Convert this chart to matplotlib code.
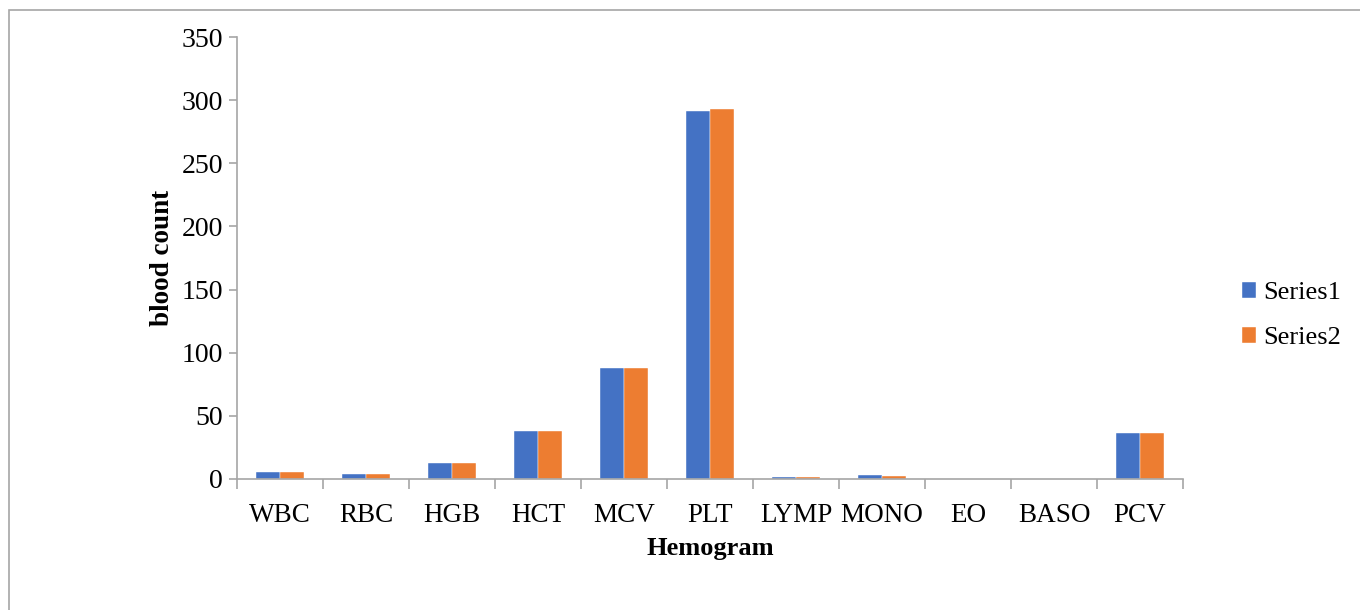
import matplotlib.pyplot as plt
import numpy as np
from matplotlib.patches import Rectangle

plt.rcParams['font.family'] = ['Liberation Serif', 'DejaVu Serif']

categories = ["WBC", "RBC", "HGB", "HCT", "MCV", "PLT", "LYMP", "MONO", "EO", "BASO", "PCV"]
series1 = [5.8, 4.0, 12.4, 38.0, 88.0, 291.6, 1.9, 3.4, 0.3, 0.1, 36.7]
series2 = [5.8, 4.0, 12.4, 38.0, 88.0, 293.0, 1.8, 2.6, 0.3, 0.1, 36.7]
yticks = [0, 50, 100, 150, 200, 250, 300, 350]

blue = "#4472c4"
orange = "#ed7d31"
grey = "#a6a6a6"

fig = plt.figure(figsize=(13.6, 6.1), dpi=100)
# outer frame of the chart area
fig.patches.append(Rectangle((9 / 1360, -0.1), 1.2, 1 - 10 / 610 + 0.1,
                             transform=fig.transFigure, fill=False,
                             edgecolor=grey, linewidth=1.2))

ax = fig.add_axes([0.1743, 0.2148, 0.8699 - 0.1743, 0.9393 - 0.2148])
x = np.arange(len(categories))
w = 0.28
ax.bar(x - w / 2, series1, w, color=blue, edgecolor="white", linewidth=0.3, label="Series1")
ax.bar(x + w / 2, series2, w, color=orange, edgecolor="white", linewidth=0.3, label="Series2")

ax.set_xlim(-0.5, len(categories) - 0.5)
ax.set_ylim(0, 350)
ax.set_yticks(yticks)
ax.set_xticks(np.arange(-0.5, len(categories)), minor=False)
ax.set_xticklabels([])
ax.set_xticks(x, minor=True)
ax.set_xticklabels(categories, minor=True)
ax.tick_params(axis="x", which="major", length=7, color=grey, width=1.2)
ax.tick_params(axis="x", which="minor", length=0, labelsize=19.5, pad=17)
ax.tick_params(axis="y", length=6, color=grey, width=1.2, labelsize=20, pad=4)

for s in ["top", "right"]:
    ax.spines[s].set_visible(False)
for s in ["left", "bottom"]:
    ax.spines[s].set_color(grey)
    ax.spines[s].set_linewidth(1.2)

ax.set_ylabel("blood count", fontsize=19.5, fontweight="bold", labelpad=5)
ax.set_xlabel("Hemogram", fontsize=19, fontweight="bold", labelpad=7)

ax.legend(loc="center left", bbox_to_anchor=(1.037, 0.37), frameon=False,
          fontsize=19, handlelength=0.55, handleheight=0.55, handletextpad=0.25,
          labelspacing=0.85)

fig.savefig("out.png", dpi=100)
